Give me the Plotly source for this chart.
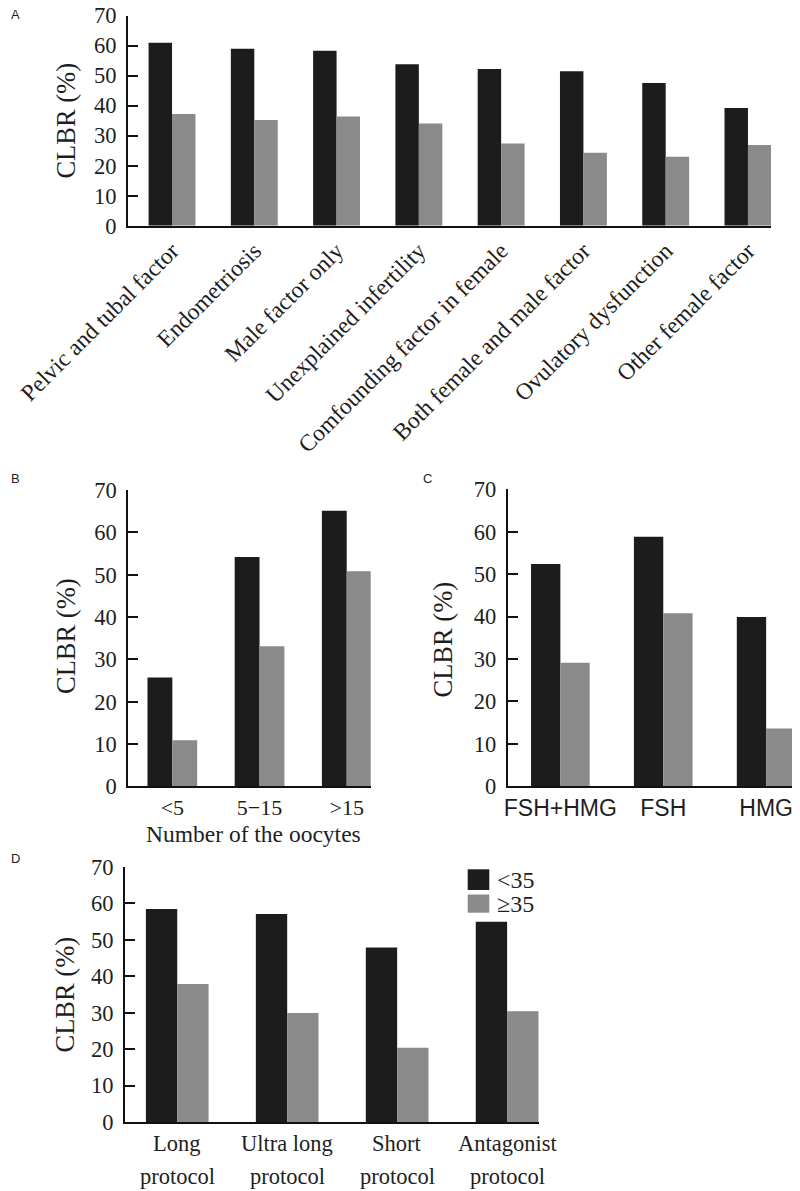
import plotly.graph_objects as go

# The page body has an 8px margin, so the figure is sized to fit the window
# and page coordinates are converted to figure coordinates below.
PAGE_OFF = 8
W, H = 800 - PAGE_OFF, 1191 - PAGE_OFF

# ---------------- data ----------------
a_categories = ["Pelvic and tubal factor", "Endometriosis", "Male factor only",
                "Unexplained infertility", "Comfounding factor in female",
                "Both female and male factor", "Ovulatory dysfunction", "Other female factor"]
a_lt35 = [60.9, 58.9, 58.3, 53.8, 52.2, 51.4, 47.5, 39.2]
a_ge35 = [37.2, 35.2, 36.4, 34.0, 27.4, 24.3, 23.0, 26.9]

b_categories = ["<5", "5\u221215", ">15"]
b_lt35 = [25.7, 54.2, 65.1]
b_ge35 = [10.9, 33.1, 50.8]

c_categories = ["FSH+HMG", "FSH", "HMG"]
c_lt35 = [52.4, 58.8, 39.9]
c_ge35 = [29.1, 40.8, 13.6]

d_categories = ["Long", "Ultra long", "Short", "Antagonist"]
d_second_line = ["protocol", "protocol", "protocol", "protocol"]
d_lt35 = [58.5, 57.1, 47.9, 55.0]
d_ge35 = [37.9, 29.9, 20.4, 30.4]

series_names = ["<35", "\u226535"]
y_ticks = [0, 10, 20, 30, 40, 50, 60, 70]

# ---------------- style ----------------
BLACK = "#1c1c1c"
GRAY = "#8a8a8a"
TXT = "#1e1e1e"
SERIF = "Liberation Serif, Times New Roman, serif"
SANS = "Liberation Sans, Arial, sans-serif"


def px_x(p):
    return (p - PAGE_OFF) / W


def px_y(p):
    return 1 - (p - PAGE_OFF) / H


fig = go.Figure()

panels = [
    ("x", "y", a_categories, a_lt35, a_ge35),
    ("x2", "y2", b_categories, b_lt35, b_ge35),
    ("x3", "y3", c_categories, c_lt35, c_ge35),
    ("x4", "y4", d_categories, d_lt35, d_ge35),
]
for xa, ya, cats, lt, ge in panels:
    fig.add_trace(go.Bar(x=cats, y=lt, name=series_names[0], marker_color=BLACK,
                         marker_line_width=0, xaxis=xa, yaxis=ya, showlegend=False,
                         offsetgroup="a"))
    fig.add_trace(go.Bar(x=cats, y=ge, name=series_names[1], marker_color=GRAY,
                         marker_line_width=0, xaxis=xa, yaxis=ya, showlegend=False,
                         offsetgroup="b"))

# plot areas in page pixels: (x0, x1, ytop, ybottom, xrange)
geo = {
    "": (128, 771, 15.5, 225.7, [-0.535, 7.28]),
    "2": (128.3, 370.7, 490, 786.3, [-0.505, 2.275]),
    "3": (507.7, 797, 489.3, 786.3, [-0.512, 2.30]),
    "4": (125, 539, 867, 1122, [-0.475, 3.29]),
}

xfonts = {"": dict(family=SERIF, size=23.5, color=TXT),
          "2": dict(family=SERIF, size=22, color=TXT),
          "3": dict(family=SANS, size=23, color=TXT),
          "4": dict(family=SERIF, size=22, color=TXT)}

layout = dict(
    width=W, height=H, margin=dict(l=0, r=0, t=0, b=0, autoexpand=False),
    paper_bgcolor="white", plot_bgcolor="white",
    barmode="group", bargap=0.43, bargroupgap=0,
    showlegend=False,
)

for k, (x0, x1, yt, yb, xr) in geo.items():
    layout["xaxis" + k] = dict(
        domain=[px_x(x0), px_x(x1)], anchor="y" + k, range=xr,
        showline=True, linecolor="#111", linewidth=2, ticks="",
        showgrid=False, zeroline=False, tickfont=xfonts[k], automargin=False,
        tickangle=-45 if k == "" else 0, fixedrange=True,
        ticklabelstandoff=0, ticklabeloverflow="allow",
        showticklabels=(k != "4"),
    )
    layout["yaxis" + k] = dict(
        domain=[px_y(yb), px_y(yt)], anchor="x" + k, range=[0, 70],
        tickvals=y_ticks, showline=True, linecolor="#111", linewidth=2,
        ticks="inside", ticklen=10, tickwidth=2, tickcolor="#111", automargin=False,
        showgrid=False, zeroline=False, ticklabelstandoff=5, ticklabeloverflow="allow",
        tickfont=dict(family=SERIF, size=22.5, color=TXT), fixedrange=True,
    )

fig.update_layout(**layout)

annotations = []
# y axis titles
for cx, cy in [(66, 120.6), (66, 636), (442.5, 640), (64, 994.5)]:
    annotations.append(dict(text="CLBR (%)", x=px_x(cx), y=px_y(cy), xref="paper", yref="paper",
                            textangle=-90, showarrow=False, xanchor="center", yanchor="middle",
                            font=dict(family=SERIF, size=26.5, color=TXT)))
# B x-axis title
annotations.append(dict(text="Number of the oocytes", x=px_x(253), y=px_y(834), xref="paper",
                        yref="paper", showarrow=False, xanchor="center", yanchor="middle",
                        font=dict(family=SERIF, size=23.5, color=TXT)))
# D category labels (two lines, wide line spacing)
for cat, second in zip(d_categories, d_second_line):
    annotations.append(dict(text=cat, x=cat, y=px_y(1143), xref="x4", yref="paper",
                            showarrow=False, xanchor="center", yanchor="middle",
                            font=dict(family=SERIF, size=22.5, color=TXT)))
    annotations.append(dict(text=second, x=cat, y=px_y(1176.5), xref="x4", yref="paper",
                            showarrow=False, xanchor="center", yanchor="middle",
                            font=dict(family=SERIF, size=22.5, color=TXT)))
# panel letters
for lab, lx, ly in [("A", 9, 14), ("B", 9, 478), ("C", 421, 478), ("D", 9, 858)]:
    annotations.append(dict(text=lab, x=px_x(lx), y=px_y(ly), xref="paper", yref="paper",
                            showarrow=False, xanchor="left", yanchor="middle",
                            font=dict(family=SANS, size=13, color=TXT)))
# legend texts
for name, ly in [(series_names[0], 879.7), (series_names[1], 904)]:
    annotations.append(dict(text=name, x=px_x(495), y=px_y(ly), xref="paper", yref="paper",
                            showarrow=False, xanchor="left", yanchor="middle",
                            font=dict(family=SERIF, size=24, color=TXT)))

shapes = [
    dict(type="rect", xref="paper", yref="paper", x0=px_x(467.7), x1=px_x(489.3),
         y0=px_y(890), y1=px_y(869.3), fillcolor=BLACK, line_width=0),
    dict(type="rect", xref="paper", yref="paper", x0=px_x(467.7), x1=px_x(489.3),
         y0=px_y(912.7), y1=px_y(894.5), fillcolor=GRAY, line_width=0),
]

fig.update_layout(annotations=annotations, shapes=shapes)

fig.write_html("out.html")
